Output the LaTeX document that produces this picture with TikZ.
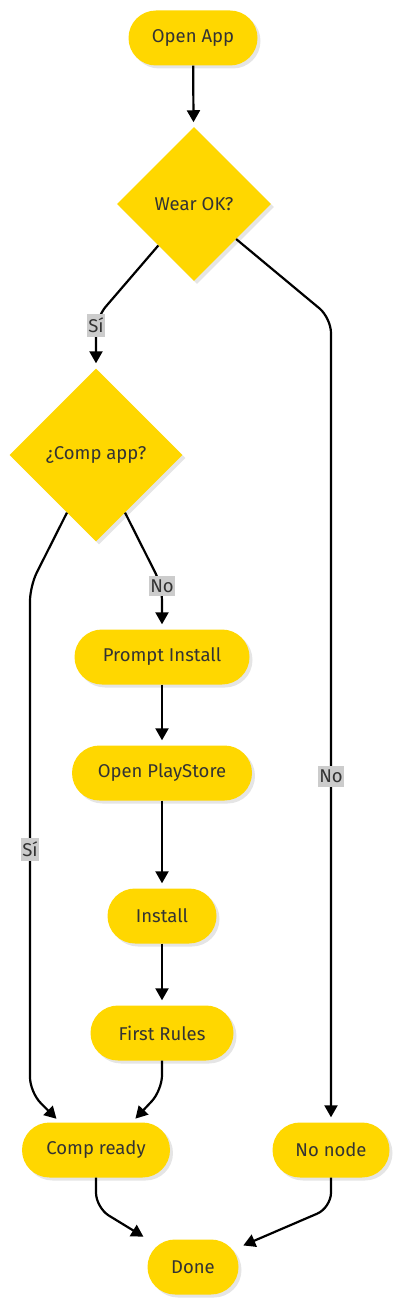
\documentclass[tikz,border=0pt]{standalone}
\usepackage{fontspec}
\setsansfont{Fira Sans}
\usetikzlibrary{shapes.geometric,arrows.meta,shadows}
\definecolor{gold}{HTML}{FFD700}
\definecolor{ink}{HTML}{333333}
\definecolor{tagfill}{HTML}{CCCCCC}

\begin{document}
\begin{tikzpicture}[x=1pt, y=1pt,
		txt/.style={text=ink, font=\sffamily\fontsize{18.5}{22}\selectfont},
		shade/.style={drop shadow={shadow xshift=3pt, shadow yshift=-3pt, fill=black!10, opacity=1}},
		box/.style={txt, shade, fill=gold, rounded corners=27.5pt, minimum height=55pt, inner sep=0pt},
		ask/.style={txt, shade, fill=gold, diamond, aspect=1, inner sep=0pt},
		lbl/.style={txt, sharp corners, fill=tagfill, inner xsep=1.5pt, inner ysep=4pt},
		flow/.style={-{Triangle[length=12pt, width=13pt]}, line width=2.2pt, shorten >=5pt, rounded corners=15pt}
	]
		\useasboundingbox (0,0) rectangle (400,-1305);
		\node[box, minimum width=129pt] (open) at (193,-38) {Open App};
		\node[ask, minimum size=154pt] (wear) at (194,-204) {Wear OK?};
		\node[ask, minimum size=173pt] (comp) at (96,-455) {¿Comp app?};
		\node[box, minimum width=175pt] (prompt) at (162,-657) {Prompt Install};
		\node[box, minimum width=180pt] (play) at (162,-773) {Open PlayStore};
		\node[box, minimum width=109pt] (install) at (162,-916) {Install};
		\node[box, minimum width=143pt] (rules) at (162,-1033) {First Rules};
		\node[box, minimum width=148pt] (ready) at (96,-1150) {Comp ready};
		\node[box, minimum width=117pt] (nonode) at (331,-1150) {No node};
		\node[box, minimum width=91pt] (done) at (193,-1267) {Done};
		\coordinate (fork) at (0,-318);
		\coordinate (split) at (0,-586);
		\coordinate (lane) at (30,-586);

		\draw[flow] (open) -- (wear);
		\draw[flow] (wear) -- (comp |- fork) -- node[lbl, pos=.14] {Sí} (comp);
		\draw[flow] (wear) -- (nonode |- fork) -- node[lbl, pos=.57] {No} (nonode);
		\draw[flow] (comp) -- (prompt |- split) node[lbl] {No} -- (prompt);
		\draw[flow] (comp) -- (lane) -- node[lbl, pos=.52] {Sí} ([yshift=30pt]ready.north -| lane) -- ([xshift=-36pt]ready.north);
		\draw[flow] (prompt) -- (play);
		\draw[flow] (play) -- (install);
		\draw[flow] (install) -- (rules);
		\draw[flow] (rules) -- ([yshift=32pt]ready.north -| rules) -- ([xshift=36pt]ready.north);
		\draw[flow] (ready) -- ([yshift=-30pt]ready.south) -- (done);
		\draw[flow] (nonode) -- ([yshift=-30pt]nonode.south) -- (done);
\end{tikzpicture}
\end{document}
